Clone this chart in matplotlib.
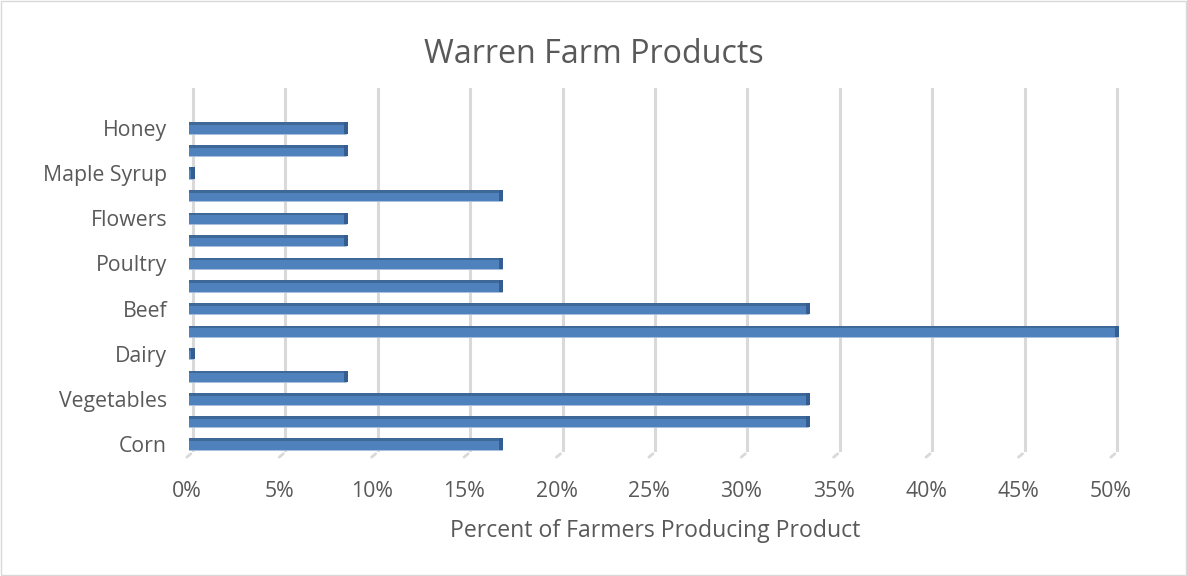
import matplotlib.pyplot as plt
import matplotlib.transforms as mtransforms
import numpy as np

# categories from bottom to top; only every other one carries a visible label
categories = ["Corn", "", "Vegetables", "", "Dairy", "", "Beef", "",
              "Poultry", "", "Flowers", "", "Maple Syrup", "", "Honey"]
values = [16.7, 33.3, 33.3, 8.3, 0.0, 50.0, 33.3, 16.7,
          16.7, 8.3, 8.3, 16.7, 0.0, 8.3, 8.3]
x_ticks = [0, 5, 10, 15, 20, 25, 30, 35, 40, 45, 50]

plt.rcParams['font.family'] = ['Open Sans', 'DejaVu Sans']
text_color = '#595959'

fig = plt.figure(figsize=(11.87, 5.76), dpi=100)
fig.patches.append(plt.Rectangle((0.001, 0.001), 0.998, 0.997, transform=fig.transFigure,
                                 fill=False, edgecolor='#d9d9d9', linewidth=1))
ax = fig.add_axes([0.1595, 0.2153, 0.7847, 0.632])

y = np.arange(len(categories))
vals = np.array(values)

# vertical gridlines with a small "floor" stroke for the 3D look
for t in x_ticks:
    ax.axvline(t, color='#d9d9d9', linewidth=2.2, zorder=0)
    ax.annotate('', xy=(t, 0), xycoords=('data', 'axes fraction'),
                xytext=(-6, -5), textcoords='offset points',
                arrowprops=dict(arrowstyle='-', color='#d9d9d9', linewidth=2))

# bar body (starts a little left of zero, like the 3D front face)
bar_h = 0.5
start = -0.25
ax.barh(y, vals - start, left=start, height=bar_h, color='#4f81bd',
        edgecolor='#a9c0de', linewidth=0.6, zorder=3)
# darker top face
ax.barh(y + bar_h / 2 - 0.06, vals - start, left=start, height=0.12,
        color='#3e6898', linewidth=0, zorder=4)
# darker end cap
ax.barh(y, np.full(len(vals), 0.2), left=vals - 0.12, height=bar_h,
        color='#345d91', linewidth=0, zorder=5)

ax.set_xlim(-0.2, 50.2)
ax.set_ylim(-0.35, 15.77)
ax.set_xticks(x_ticks)
ax.set_xticklabels([f"{t}%" for t in x_ticks])
ax.set_yticks(y)
ax.set_yticklabels(categories)
ax.tick_params(axis='both', length=0, labelsize=15.3, colors=text_color)
ax.tick_params(axis='x', pad=21)
ax.tick_params(axis='y', pad=16)
shift = mtransforms.ScaledTranslation(-6 / 100, 0, fig.dpi_scale_trans)
for lab in ax.get_xticklabels():
    lab.set_transform(lab.get_transform() + shift)
for s in ax.spines.values():
    s.set_visible(False)

ax.set_xlabel("Percent of Farmers Producing Product", fontsize=16.6,
              color=text_color, labelpad=12)
fig.text(0.5, 0.905, "Warren Farm Products", ha='center', va='center',
         fontsize=23.2, color=text_color)

fig.savefig("out.png", dpi=100)
